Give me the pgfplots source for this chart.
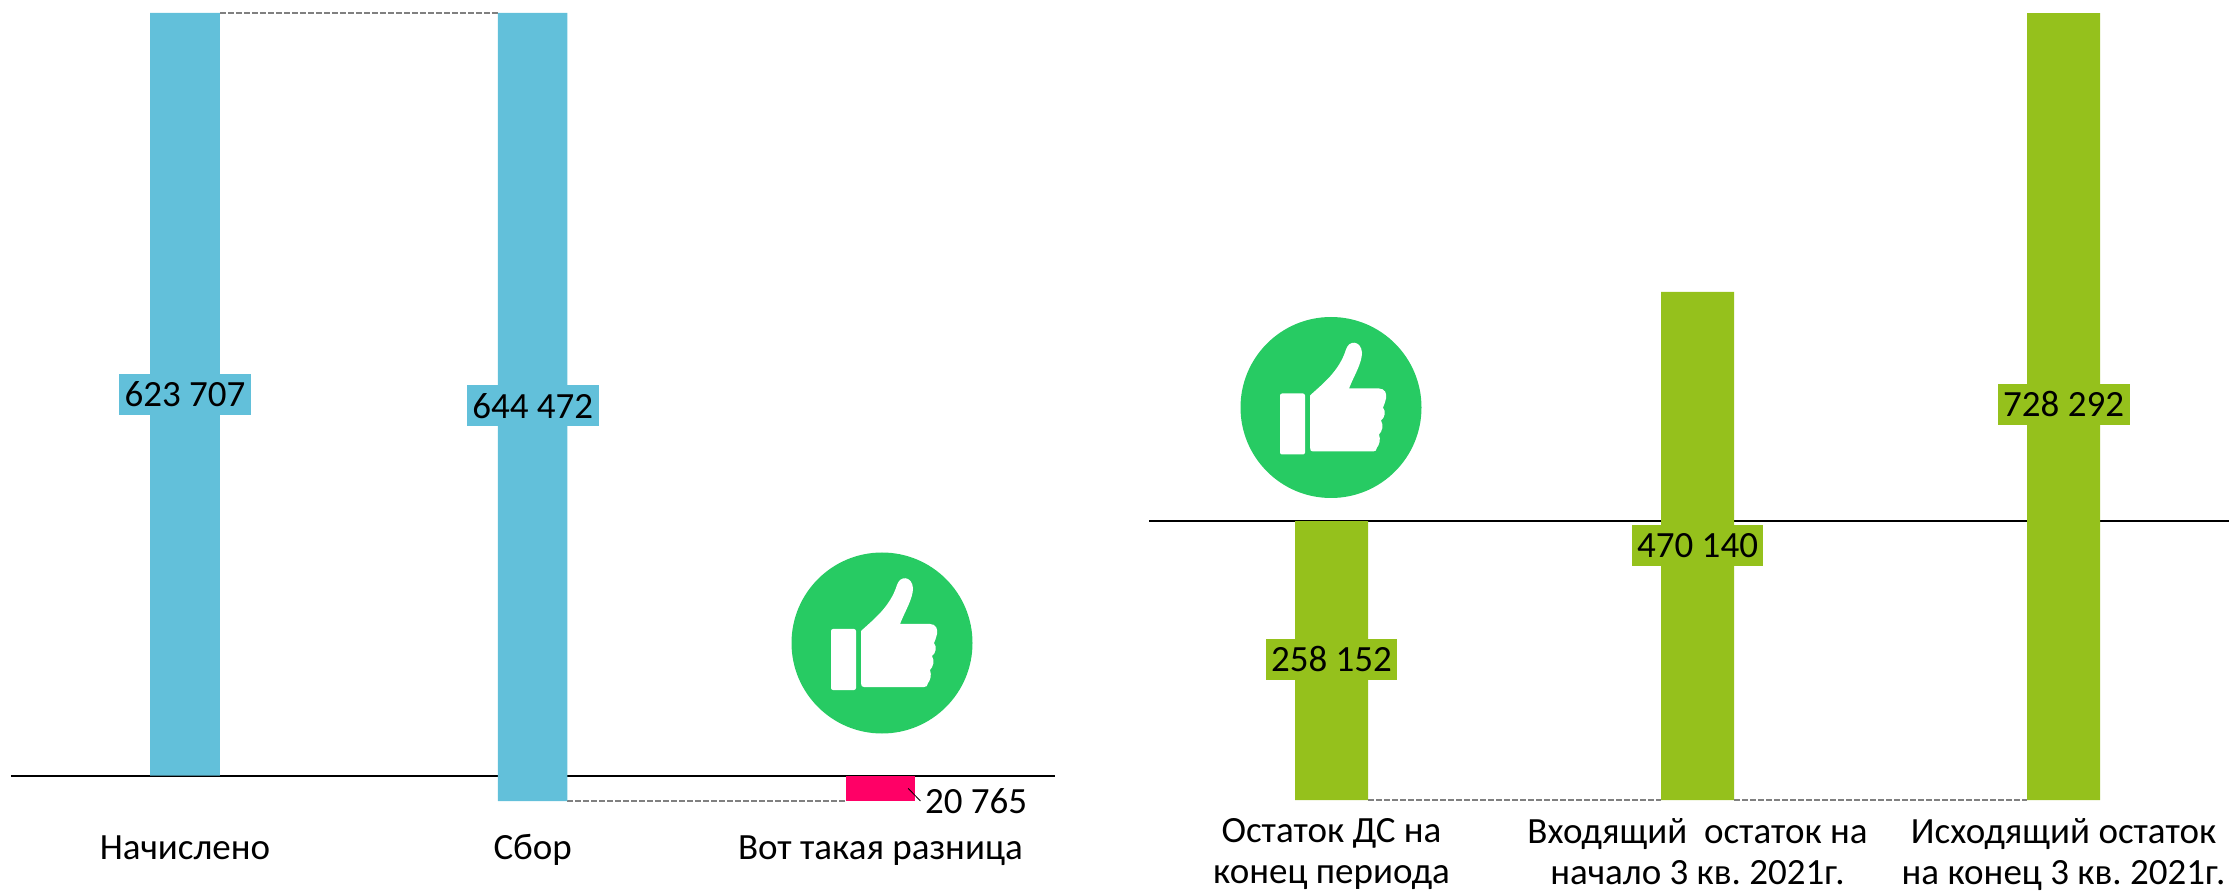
\documentclass[border=0pt]{standalone}
\usepackage{pgfplots}
\pgfplotsset{compat=1.18}
\usepackage{fontspec}
\setmainfont{Carlito}
\frenchspacing
\definecolor{barblue}{HTML}{62C0DA}
\definecolor{barpink}{HTML}{FF0066}
\definecolor{bargreen}{HTML}{95C11C}
\definecolor{thumbgreen}{HTML}{27CB63}
\newcommand{\thumb}[2]{%
  \begin{scope}[shift={(#1*0.5pt,-#2*0.5pt+445pt)},x=0.5pt,y=-0.5pt]
    \fill[thumbgreen] (0,0) circle (90.5pt*0.5);
    \fill[white,rounded corners=1pt] (-51,-14) rectangle (-26,47);
    \fill[white] (-21,-12) .. controls (-8,-24) and (8,-36) .. (15,-58)
      .. controls (18,-68) and (30,-67) .. (31,-55)
      .. controls (31,-44) and (23,-32) .. (18,-19)
      -- (48,-19) .. controls (54,-19) and (56,-14) .. (55,-9)
      .. controls (54,-5) and (53,-2) .. (52,0)
      .. controls (55,4) and (54,10) .. (50,13)
      .. controls (53,18) and (51,24) .. (48,27)
      .. controls (50,32) and (48,38) .. (46,40)
      .. controls (46,43) and (44,44) .. (42,44)
      -- (-18,44) .. controls (-20,44) and (-21,43) .. (-21,40) -- cycle;
  \end{scope}}
\tikzset{lbl/.style={inner xsep=2.75pt, inner ysep=0pt, minimum height=20.5pt, font=\fontsize{18.5}{20.5}\selectfont, text=black}}
\pgfplotsset{
  waterfall/.style={
    scale only axis, ybar stacked, stack negative=on previous, clip=false,
    bar shift=0pt,
    axis y line=none, axis x line=bottom,
    x axis line style={draw=none,-},
    major tick length=0pt,
    xtick={0,1,2},
    every x tick label/.append style={font=\fontsize{18.5}{20.5}\selectfont, align=center, anchor=north},
  },
}
\begin{document}
\begin{tikzpicture}[x=1pt,y=1pt]
\path[use as bounding box] (0,0) rectangle (1114.5pt,445pt);
% left chart: axis frame spans px x 11..1055, y 13..801
\begin{axis}[waterfall,
  at={(5.5pt,44.5pt)}, anchor=south west,
  width=522pt, height=394pt,
  xmin=-0.5004, xmax=2.502, ymin=-20765, ymax=623707,
  bar width=34.75pt,
  xticklabels={Начислено,Сбор,Вот такая разница},
  xticklabel style={yshift=-13pt, text height=12.5pt, text depth=3.5pt},
  after end axis/.code={
    \node[lbl,fill=barblue] at (axis cs:0,311853) {623 707};
    \node[lbl,fill=barblue] at (axis cs:1,302500) {644 472};
    \node[lbl] at (axis cs:2.275,-20765) {20 765};
    \draw[black,line width=0.4pt] (axis cs:2.08,-10500) -- (axis cs:2.115,-20765);
  },
]
\addplot[draw=none,fill=none] coordinates {(0,0)(1,-20765)(2,0)};
\addplot[draw=none,fill=barblue] coordinates {(0,623707)(1,644472)(2,0)};
\addplot[draw=none,fill=barpink] coordinates {(0,0)(1,0)(2,-20765)};
\draw[black,line width=1pt] (axis cs:-0.5004,0) -- (axis cs:2.502,0);
\draw[gray,line width=0.6pt,dash pattern=on 3pt off 1pt] (axis cs:0.1,623707) -- (axis cs:0.9,623707);
\draw[gray,line width=0.6pt,dash pattern=on 3pt off 1pt] (axis cs:1.1,-20765) -- (axis cs:1.9,-20765);
\end{axis}
% right chart: axis frame spans px x 1149..2229, y 13..800
\begin{axis}[waterfall,
  at={(574.5pt,45pt)}, anchor=south west,
  width=540pt, height=393.5pt,
  xmin=-0.4986, xmax=2.452, ymin=-258152, ymax=470140,
  bar width=36.5pt,
  xticklabels={{Остаток ДС на\\конец периода},{Входящий\ \ остаток на\\начало 3 кв. 2021г.},{Исходящий остаток\\на конец 3 кв. 2021г.}},
  xticklabel style={yshift=-5.5pt},
  after end axis/.code={
    \node[lbl,fill=bargreen] at (axis cs:0,-128000) {258 152};
    \node[lbl,fill=bargreen] at (axis cs:1,-23082) {470 140};
    \node[lbl,fill=bargreen] at (axis cs:2,108000) {728 292};
  },
]
\addplot[draw=none,fill=none] coordinates {(0,0)(1,-258152)(2,-258152)};
\addplot[draw=none,fill=bargreen] coordinates {(0,-258152)(1,470140)(2,728292)};
\draw[black,line width=1pt] (axis cs:-0.4986,0) -- (axis cs:2.452,0);
\draw[gray,line width=0.6pt,dash pattern=on 3pt off 1pt] (axis cs:0.1,-258152) -- (axis cs:0.9,-258152);
\draw[gray,line width=0.6pt,dash pattern=on 3pt off 1pt] (axis cs:1.1,-258152) -- (axis cs:1.9,-258152);
\end{axis}
\thumb{882}{643}
\thumb{1331}{407.5}
\end{tikzpicture}
\end{document}
